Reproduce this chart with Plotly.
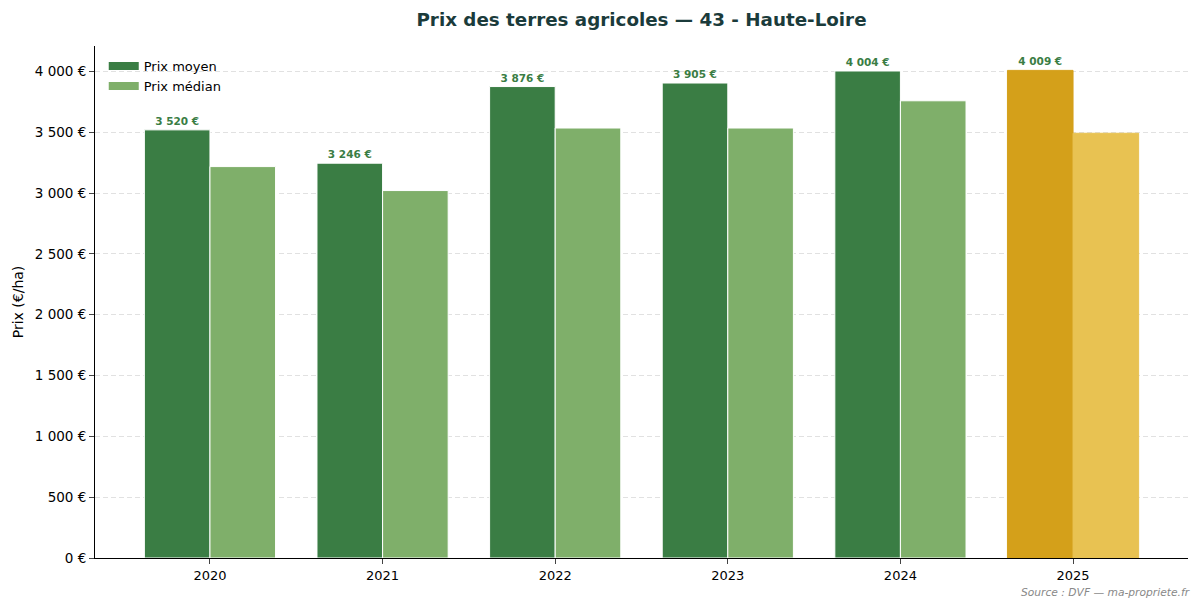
import plotly.graph_objects as go

# Data
annees = ["2020", "2021", "2022", "2023", "2024", "2025"]
prix_moyen = [3520, 3246, 3876, 3905, 4004, 4009]
prix_median = [3218, 3021, 3535, 3535, 3759, 3492]

VERT_FONCE = "#3A7D44"
VERT_CLAIR = "#7FAF6A"
OR_FONCE = "#D4A01A"
OR_CLAIR = "#E8C252"


def euros(v):
    return f"{v:,.0f}".replace(",", " ") + " €"


# the last (partial) year is highlighted in gold
couleurs_moyen = [OR_FONCE if a == annees[-1] else VERT_FONCE for a in annees]
couleurs_median = [OR_CLAIR if a == annees[-1] else VERT_CLAIR for a in annees]
bords_moyen = [OR_FONCE if a == annees[-1] else "white" for a in annees]
bords_median = [OR_CLAIR if a == annees[-1] else "white" for a in annees]

fig = go.Figure()
fig.add_trace(
    go.Bar(
        x=annees,
        y=prix_moyen,
        name="Prix moyen",
        showlegend=False,
        marker=dict(color=couleurs_moyen, line=dict(color=bords_moyen, width=1)),
        text=[f"<b>{euros(v)}</b>" for v in prix_moyen],
        textposition="outside",
        textfont=dict(size=10.5, color=VERT_FONCE, family="DejaVu Sans"),
        cliponaxis=False,
    )
)
fig.add_trace(
    go.Bar(
        x=annees,
        y=prix_median,
        name="Prix médian",
        showlegend=False,
        marker=dict(color=couleurs_median, line=dict(color=bords_median, width=1)),
    )
)

# legend entries drawn as wide flat patches, like the reference
for nom, couleur in [("Prix moyen", VERT_FONCE), ("Prix médian", VERT_CLAIR)]:
    fig.add_trace(
        go.Scatter(
            x=[None],
            y=[None],
            mode="lines",
            name=nom,
            line=dict(color=couleur, width=8),
            hoverinfo="skip",
        )
    )

# the page body adds an 8px margin, so the figure is drawn 8px smaller
W, H = 1195, 598
fig.update_layout(
    width=W,
    height=H,
    template="simple_white",
    font=dict(family="DejaVu Sans", size=13, color="#000000"),
    title=dict(
        text="<b>Prix des terres agricoles — 43 - Haute-Loire</b>",
        x=633.5 / W,
        xanchor="center",
        y=1 - 11.5 / H,
        yanchor="middle",
        font=dict(size=18.3, color="#1B3B3B"),
    ),
    margin=dict(l=87, r=15, t=38, b=48, autoexpand=False),
    barmode="group",
    bargap=0.24,
    bargroupgap=0,
    separators=", ",
    showlegend=True,
    legend=dict(
        x=0.008,
        y=0.99,
        xanchor="left",
        yanchor="top",
        bgcolor="rgba(255,255,255,0)",
        font=dict(size=13),
        itemwidth=30,
        tracegroupgap=0,
    ),
    xaxis=dict(
        type="category",
        range=[-0.666, 5.666],
        automargin=False,
        showline=True,
        linecolor="black",
        linewidth=1,
        ticks="outside",
        ticklen=5,
        tickfont=dict(size=13),
        showgrid=False,
    ),
    yaxis=dict(
        title=dict(text="Prix (€/ha)", font=dict(size=14), standoff=7),
        automargin=False,
        layer="above traces",
        range=[0, max(prix_moyen) * 1.05],
        tickformat=",d",
        ticksuffix=" €",
        dtick=500,
        showline=True,
        linecolor="black",
        linewidth=1,
        ticks="outside",
        ticklen=5,
        tickfont=dict(size=13.5),
        showgrid=True,
        gridcolor="rgba(170,170,170,0.35)",
        griddash="5px,3px",
        gridwidth=1,
        zeroline=False,
    ),
    annotations=[
        dict(
            text="<i>Source : DVF — ma-propriete.fr</i>",
            xref="paper",
            yref="paper",
            x=1.0037,
            y=-0.05,
            xanchor="right",
            yanchor="top",
            showarrow=False,
            font=dict(size=10.7, color="#888888"),
        )
    ],
)

fig.write_html("out.html")
